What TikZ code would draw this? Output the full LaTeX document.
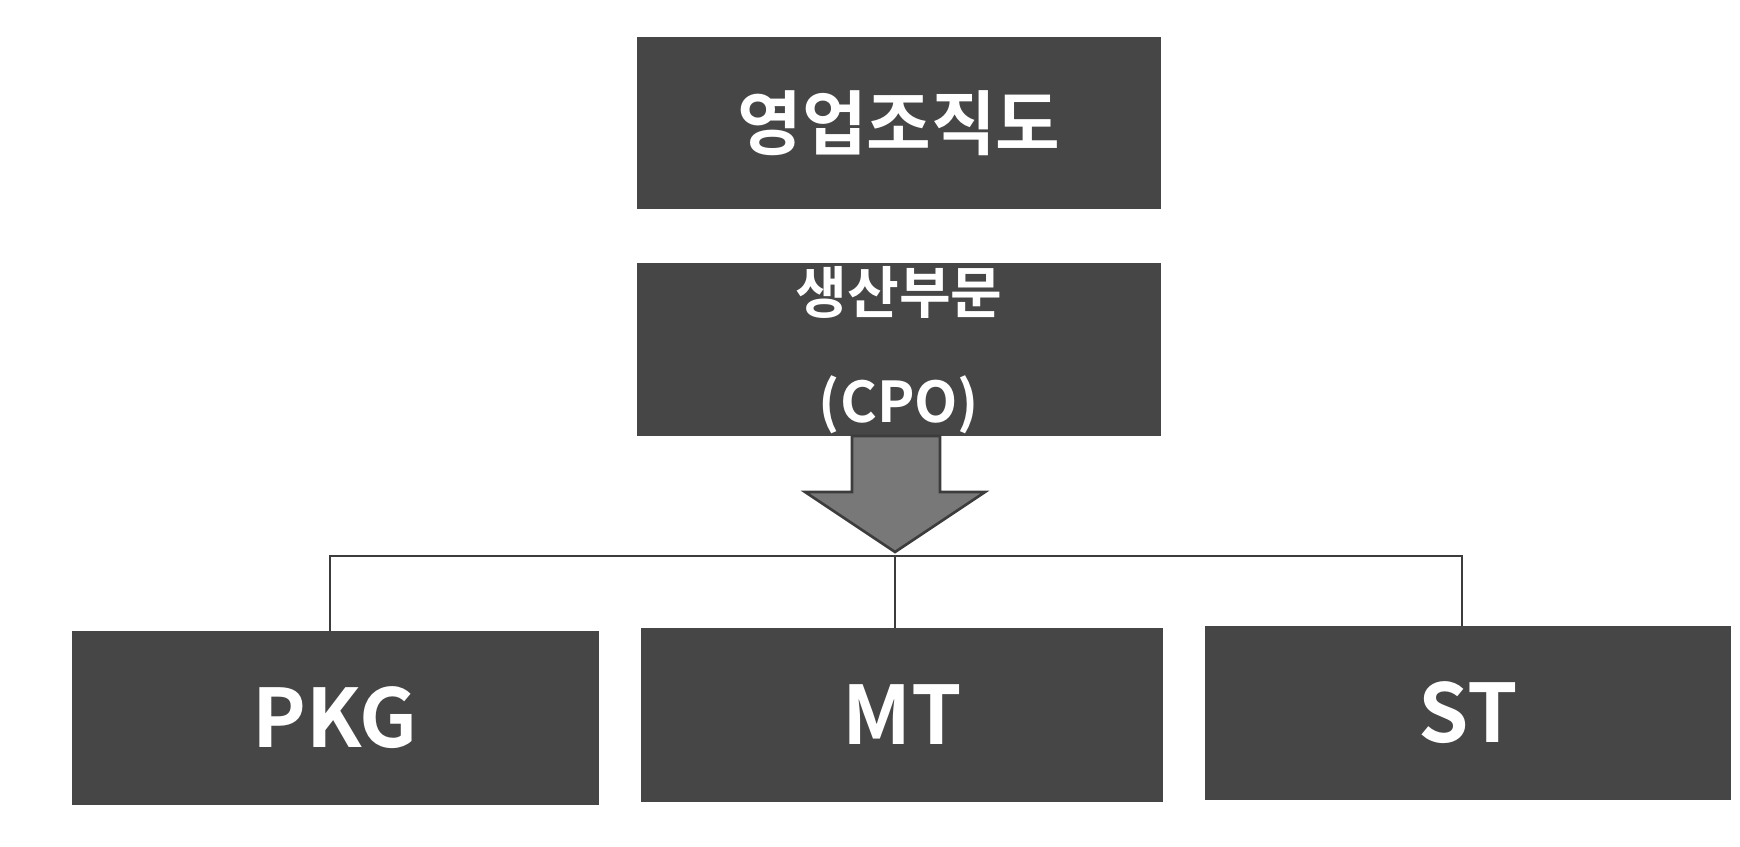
\documentclass[tikz,border=0pt]{standalone}
\usepackage{fontspec}
\usepackage{xcolor}
\setmainfont{Noto Sans CJK KR}[BoldFont={* Bold}]
\usetikzlibrary{positioning}
\definecolor{boxgray}{RGB}{70, 70, 70}
\definecolor{arrowgray}{RGB}{120, 120, 120}
\definecolor{linegray}{RGB}{60, 60, 60}

\begin{document}
\begin{tikzpicture}[x = 0.02cm, y = -0.02cm]
\tikzset{
  orgbox/.style = {fill = boxgray, text = white, font = \bfseries, inner sep = 0pt,
    minimum height = 174*0.02cm, minimum width = 524*0.02cm, align = center},
  tie/.style = {linegray, line width = 1.2pt}
}
\useasboundingbox (0,0) rectangle (1740,847);
\node[orgbox, minimum height = 172*0.02cm, font = \bfseries\fontsize{40}{48}\selectfont] (title) at (899,123) {영업조직도};
\node[orgbox, minimum height = 173*0.02cm, font = \bfseries\fontsize{32}{62}\selectfont] (cpo) at (899,350) {생산부문\\(CPO)};
\node[orgbox, minimum width = 527*0.02cm, font = \bfseries\fontsize{46}{54}\selectfont] (pkg) at (335,718) {PKG};
\node[orgbox, minimum width = 522*0.02cm, font = \bfseries\fontsize{46}{54}\selectfont] (mt) at (902,715) {MT};
\node[orgbox, minimum width = 526*0.02cm, font = \bfseries\fontsize{46}{54}\selectfont] (st) at (1468,713) {ST};
% arrow from CPO down to the tie line
\draw[linegray, line width = 1.5pt, fill = arrowgray]
  (852,436) -- (940,436) -- (940,492) -- (985,492) -- (895,552) -- (805,492) -- (852,492) -- cycle;
\coordinate (bar) at (895,556);
\draw[tie] (pkg.north -| 330,0) |- (bar) -| (st.north -| 1462,0);
\draw[tie] (bar) -- (mt.north -| bar);
\end{tikzpicture}
\end{document}
